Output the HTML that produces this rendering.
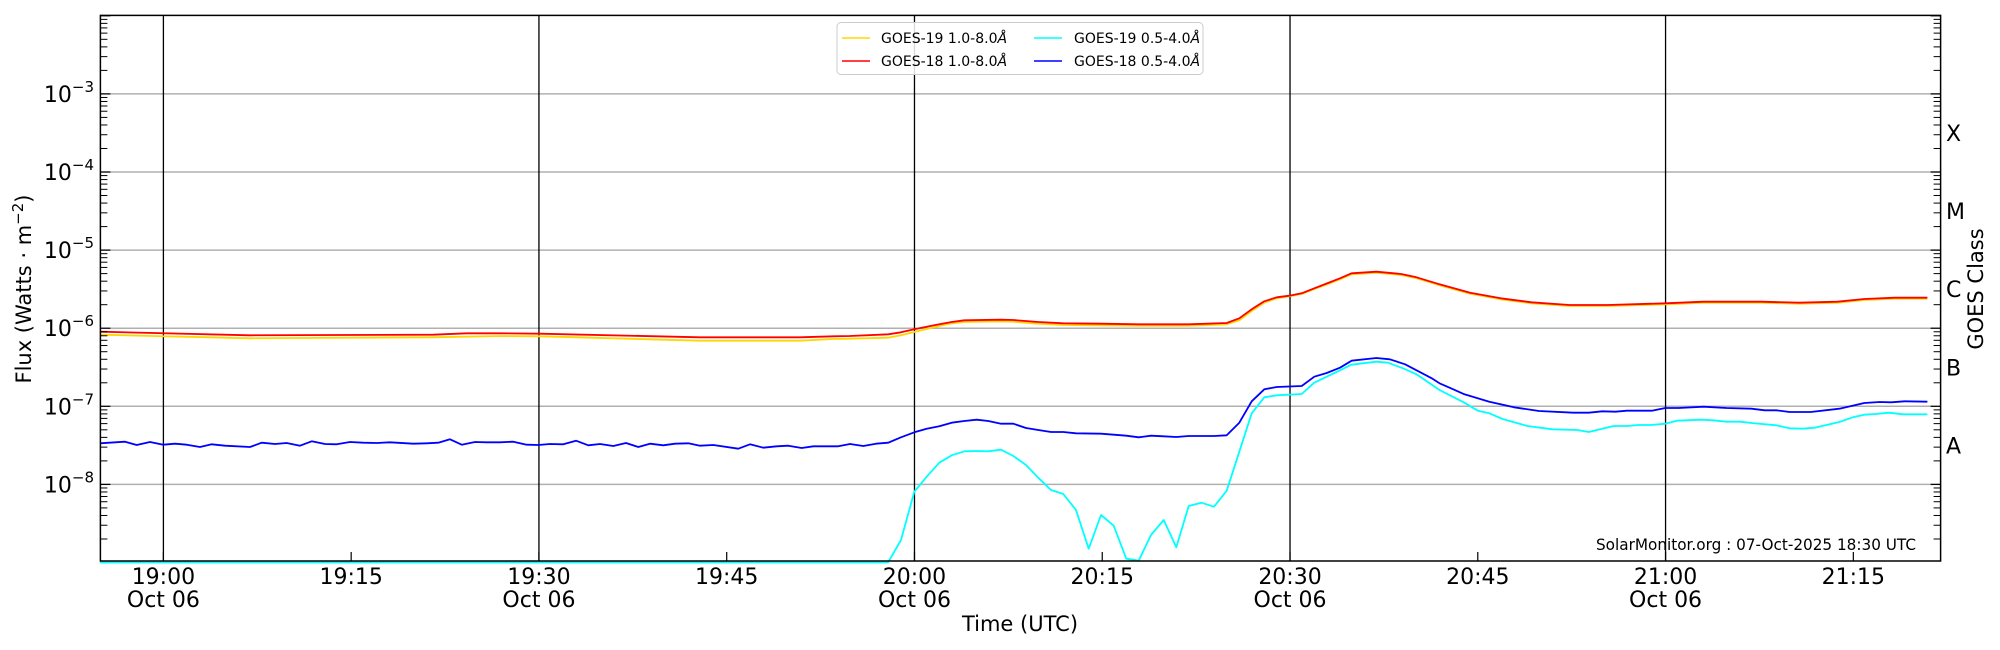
<!DOCTYPE html>
<html><head><meta charset="utf-8"><style>
html,body{margin:0;padding:0;background:#fff;}
svg{display:block;font-family:"DejaVu Sans","Liberation Sans",sans-serif;}
</style></head><body>
<svg id="s" width="2000" height="650" viewBox="0 0 2000 650" xmlns="http://www.w3.org/2000/svg">
<rect width="2000" height="650" fill="#fff"/>
<g id="grid"></g>
<g id="series" fill="none" stroke-width="1.8" stroke-linejoin="round"></g>
<g id="axes"></g>
<!-- legend -->
<rect x="837" y="22.5" width="366" height="52" rx="4" fill="#fff" fill-opacity="0.85" stroke="#ccc" stroke-width="1"/>
<line x1="842" y1="38" x2="870" y2="38" stroke="#ffd700" stroke-width="1.5"/>
<line x1="842" y1="61" x2="870" y2="61" stroke="#ff0000" stroke-width="1.5"/>
<line x1="1034" y1="38" x2="1062" y2="38" stroke="#00ffff" stroke-width="1.5"/>
<line x1="1034" y1="61" x2="1062" y2="61" stroke="#0000ff" stroke-width="1.5"/>
<g font-size="14" fill="#000">
<text x="881" y="43">GOES-19 1.0-8.0<tspan font-style="italic">Å</tspan></text>
<text x="881" y="66">GOES-18 1.0-8.0<tspan font-style="italic">Å</tspan></text>
<text x="1074" y="43">GOES-19 0.5-4.0<tspan font-style="italic">Å</tspan></text>
<text x="1074" y="66">GOES-18 0.5-4.0<tspan font-style="italic">Å</tspan></text>
</g>
<text x="1916" y="550" font-size="16" text-anchor="end" textLength="320" lengthAdjust="spacingAndGlyphs">SolarMonitor.org : 07-Oct-2025 18:30 UTC</text>
<text x="1020" y="631" font-size="21" text-anchor="middle">Time (UTC)</text>
<text transform="translate(31,289) rotate(-90)" font-size="21" text-anchor="middle">Flux (Watts · m<tspan font-size="15" dy="-8">−2</tspan><tspan dy="8">)</tspan></text>
<text transform="translate(1983,289) rotate(-90)" font-size="21" text-anchor="middle">GOES Class</text>
</svg>
<script>
(function(){
var NS="http://www.w3.org/2000/svg";
var L=100.4,R=1940.6,T=15.4,B=561;
function yl(lg){return 328.2-(lg+6)*78.1;}
function xt(t){return 163.4+12.518*t;}
function el(p,tag,a,txt){var e=document.createElementNS(NS,tag);for(var k in a)e.setAttribute(k,a[k]);if(txt!==undefined)e.textContent=txt;p.appendChild(e);return e;}
var g=document.getElementById('grid'),ax=document.getElementById('axes'),sr=document.getElementById('series');
for(var d=-8;d<=-3;d++){el(g,'line',{x1:L,x2:R,y1:yl(d),y2:yl(d),stroke:'#b0b0b0','stroke-width':1.5});}
[0,30,60,90,120].forEach(function(t){el(g,'line',{x1:xt(t),x2:xt(t),y1:T,y2:B,stroke:'#000','stroke-width':1.3});});
function z5(X,Y){return [100+X/3,320+Y/3];}
function z6(X,Y){return [500+X/3,320+Y/3];}
function z4(X,Y){return [850+X/3,290+Y/3];}
function z7(X,Y){return [1340+X/2.613,250+Y/3];}
function P(f,arr,dy){dy=dy||0;var o=[];for(var i=0;i<arr.length;i+=2){var p=f(arr[i],arr[i+1]);o.push([p[0],p[1]+dy]);}return o;}
var red7=[0,85,30,70,95,65,160,72,200,82,260,103,340,128,420,145,500,157,600,165,700,165,850,160,950,155,1100,155,1200,158,1300,155,1370,147,1450,143,1535,143];
var red=[].concat(P(z5,[0,35,450,46,1000,44,1100,40,1200,40]),P(z6,[120,41,600,52,900,52,1000,49]),
P(z4,[0,138,115,133,153,127,193,118,230,110,268,103,305,96,343,91,453,89,490,90,565,96,640,100,753,101,866,103,1016,103,1130,99,1168,85,1205,58,1243,34,1280,22,1318,17,1355,10,1393,-5]),[[1328,283]],P(z7,red7));
var yel=[].concat(P(z5,[0,44,450,55,1000,52,1200,48]),P(z6,[120,49,600,62,900,62,1000,57]),
P(z4,[0,146,115,143,153,136,193,126,230,117,268,108,305,100,343,96,453,94,490,95,565,101,640,105,753,106,866,107,1016,107,1130,103,1168,91,1205,63,1243,38,1280,25,1318,19,1355,12,1393,-3]),[[1328,284]],P(z7,red7,1));
var blue=[].concat(P(z5,[0,370,75,365,110,375,150,366,190,374,225,371,260,374,300,381,335,373,375,377,450,381,485,368,525,372,560,369,600,377,635,364,675,372,710,373,750,366,790,368,830,369,870,367,940,371,980,370,1015,368,1050,358,1085,374,1125,366,1160,367]),
P(z6,[0,367,40,365,80,374,115,375,150,372,190,373,228,362,265,376,300,372,340,378,378,369,415,381,450,371,490,376,525,371,565,370,600,377,640,375,715,386,750,373,790,383,830,379,865,377,905,384,940,379,1015,379]),
P(z4,[0,462,40,468,78,461,115,458,153,442,193,427,230,416,268,409,305,398,343,393,380,389,415,393,453,401,490,401,528,414,565,420,603,426,640,426,678,430,753,431,791,434,829,437,866,442,903,437,941,439,979,441,1016,438,1092,438,1130,436,1168,398,1205,334,1243,298,1280,291,1355,288,1393,260,1430,249,1470,233,1500,215]),
P(z7,[30,332,95,324,130,328,170,343,240,385,260,400,290,415,325,433,390,455,455,472,520,483,610,488,650,488,685,484,720,485,750,482,815,482,850,474,885,474,950,470,1010,474,1075,476,1110,481,1140,481,1175,486,1230,486,1305,476,1370,459,1410,456,1440,457,1475,454,1535,455]));
var cyan=[[100,562.5],[888,562.5]].concat(P(z4,[153,750,193,605,230,560,268,518,305,496,343,484,380,483,415,484,453,479,490,498,528,525,565,563,603,600,640,612,678,660,716,776,753,675,791,707,829,806,866,812,903,735,941,690,979,772,1016,648,1054,638,1092,650,1130,602,1168,485,1205,370,1243,322,1280,316,1355,312,1393,278,1430,260,1470,241,1500,226]),
P(z7,[30,344,95,335,125,338,165,355,200,373,260,420,325,458,360,482,390,490,425,507,490,528,555,538,620,540,650,546,715,528,750,528,780,525,815,525,850,521,880,512,945,509,975,511,1010,515,1045,515,1075,519,1140,526,1175,535,1210,536,1240,533,1305,516,1340,502,1370,494,1400,492,1435,488,1470,493,1535,493]));
function path(pts,col){var d='M'+pts.map(function(p){return p[0].toFixed(1)+','+p[1].toFixed(1);}).join(' L');el(sr,'path',{d:d,stroke:col});}
path(yel,'#ffd700');path(red,'#ff0000');path(cyan,'#00ffff');path(blue,'#0000ff');
el(ax,'rect',{x:L,y:T,width:R-L,height:B-T,fill:'none',stroke:'#000','stroke-width':1.5});
for(var dd=-9;dd<=-2;dd++){
 var y=yl(dd);
 if(y>=T-0.5&&y<=B+0.5){el(ax,'line',{x1:L,x2:L+10,y1:y,y2:y,stroke:'#000','stroke-width':1.2});el(ax,'line',{x1:R-10,x2:R,y1:y,y2:y,stroke:'#000','stroke-width':1.2});}
 if(dd<-2){for(var m=2;m<=9;m++){var ym=yl(dd+Math.log10(m));if(ym<T||ym>B)continue;
  el(ax,'line',{x1:L,x2:L+7,y1:ym,y2:ym,stroke:'#000','stroke-width':1});el(ax,'line',{x1:R-7,x2:R,y1:ym,y2:ym,stroke:'#000','stroke-width':1});}}
}
for(var e=-8;e<=-3;e++){var t=el(ax,'text',{x:94,y:yl(e)+8,'font-size':22,'text-anchor':'end'});
 el(t,'tspan',{},'10');el(t,'tspan',{'font-size':15,dy:-10},'−'+(-e));}
['A','B','C','M','X'].forEach(function(c,i){el(ax,'text',{x:1946,y:yl(-7.5+i)+8,'font-size':22},c);});
[0,15,30,45,60,75,90,105,120,135].forEach(function(t){var x=xt(t);
 el(ax,'line',{x1:x,x2:x,y1:B-9,y2:B,stroke:'#000','stroke-width':1.2});
 var h=19+Math.floor(t/60),mm=t%60;var lab=h+':'+(mm<10?'0':'')+mm;
 el(ax,'text',{x:x,y:584,'font-size':22,'text-anchor':'middle'},lab);
 if(t%30===0)el(ax,'text',{x:x,y:607,'font-size':22,'text-anchor':'middle'},'Oct 06');
});
})();
</script>
</body></html>
